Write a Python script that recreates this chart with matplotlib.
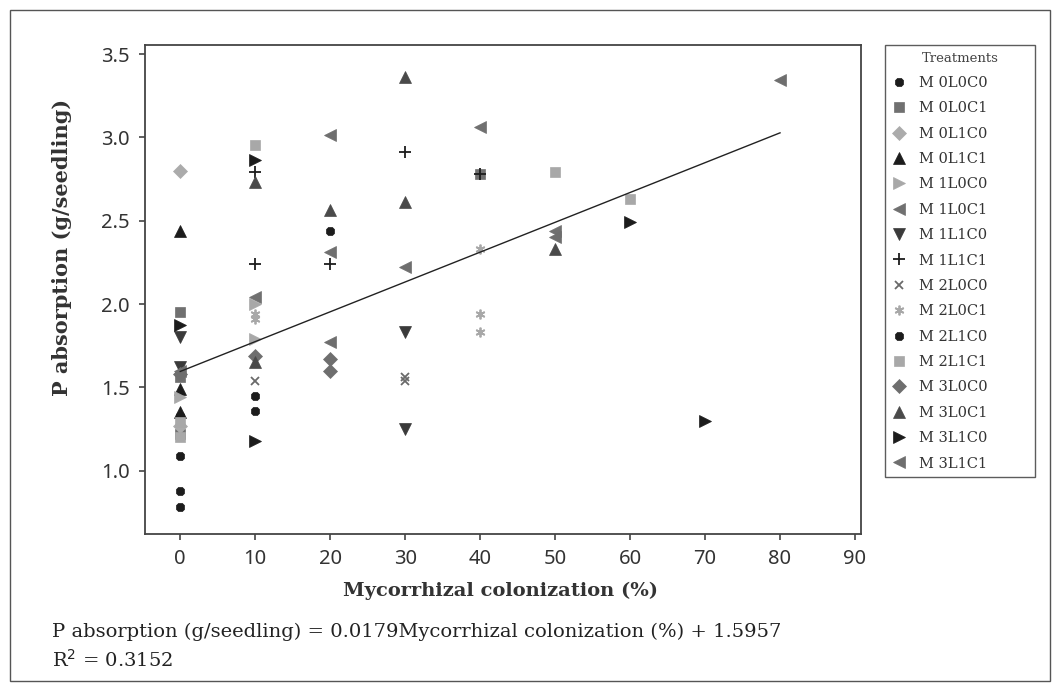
import numpy as np
import matplotlib.pyplot as plt
from matplotlib.patches import Rectangle

# treatment data (colonization %, P absorption g/seedling)
treatments = ["M0L0C0", "M0L0C1", "M0L1C0", "M0L1C1", "M1L0C0", "M1L0C1",
              "M1L1C0", "M1L1C1", "M2L0C0", "M2L0C1", "M2L1C0", "M2L1C1",
              "M3L0C0", "M3L0C1", "M3L1C0", "M3L1C1"]

col_x = {
    "M0L0C0": [0, 0, 0, 10, 10],
    "M0L0C1": [0, 0, 0, 40],
    "M0L1C0": [0, 0],
    "M0L1C1": [0, 0, 0],
    "M1L0C0": [0, 10, 10],
    "M1L0C1": [10, 20, 50, 40],
    "M1L1C0": [0, 0, 30, 30],
    "M1L1C1": [10, 10, 20, 30, 40],
    "M2L0C0": [10, 30, 30],
    "M2L0C1": [10, 10, 40, 40, 40],
    "M2L1C0": [0, 20],
    "M2L1C1": [10, 50, 60, 0, 0],
    "M3L0C0": [10, 20, 20, 0],
    "M3L0C1": [10, 20, 30, 30, 50, 10],
    "M3L1C0": [0, 10, 10, 60, 70],
    "M3L1C1": [20, 20, 30, 50, 80, 0],
}
p_abs = {
    "M0L0C0": [1.09, 0.88, 0.78, 1.45, 1.36],
    "M0L0C1": [1.95, 1.56, 1.22, 2.78],
    "M0L1C0": [2.80, 1.27],
    "M0L1C1": [2.44, 1.49, 1.35],
    "M1L0C0": [1.44, 1.79, 2.00],
    "M1L0C1": [2.04, 2.31, 2.44, 3.065],
    "M1L1C0": [1.80, 1.62, 1.835, 1.25],
    "M1L1C1": [2.79, 2.24, 2.24, 2.915, 2.78],
    "M2L0C0": [1.54, 1.56, 1.54],
    "M2L0C1": [1.94, 1.91, 2.33, 1.94, 1.83],
    "M2L1C0": [1.33, 2.44],
    "M2L1C1": [2.955, 2.79, 2.63, 1.29, 1.20],
    "M3L0C0": [1.69, 1.67, 1.60, 1.58],
    "M3L0C1": [2.73, 2.565, 3.36, 2.615, 2.33, 1.65],
    "M3L1C0": [1.875, 2.865, 1.18, 2.495, 1.30],
    "M3L1C1": [3.015, 1.775, 2.225, 2.40, 3.345, 1.60],
}

slope, intercept, r2 = 0.0179, 1.5957, 0.3152

styles = {
    "M0L0C0": ("8", "#1c1c1c", 7),
    "M0L0C1": ("s", "#707070", 7),
    "M0L1C0": ("D", "#ababab", 7),
    "M0L1C1": ("^", "#1c1c1c", 8),
    "M1L0C0": (">", "#a8a8a8", 8),
    "M1L0C1": ("<", "#707070", 8),
    "M1L1C0": ("v", "#3a3a3a", 8),
    "M1L1C1": ("+", "#1c1c1c", 8),
    "M2L0C0": ("x", "#6a6a6a", 6),
    "M2L0C1": ((6, 2, 0), "#a8a8a8", 7),
    "M2L1C0": ("8", "#1c1c1c", 7),
    "M2L1C1": ("s", "#a8a8a8", 7),
    "M3L0C0": ("D", "#6e6e6e", 7),
    "M3L0C1": ("^", "#4a4a4a", 8),
    "M3L1C0": (">", "#1c1c1c", 8),
    "M3L1C1": ("<", "#6e6e6e", 8),
}

fig = plt.figure(figsize=(10.61, 6.91), dpi=100)
ax = fig.add_axes([0.1367, 0.2272, 0.6748, 0.7077])

handles = []
for t in treatments:
    m, c, s = styles[t]
    thin = m in ("+", "x") or isinstance(m, tuple)
    h = ax.plot(col_x[t], p_abs[t], linestyle="none", marker=m, color=c,
                markersize=s, markeredgewidth=1.3 if thin else 0.5,
                label=" ".join([t[:1], t[1:]]))[0]
    handles.append(h)

xs = np.array([0, 80])
ax.plot(xs, slope * xs + intercept, color="#222222", lw=1.0)

ax.set_xlim(-4.7, 90.8)
ax.set_ylim(0.62, 3.555)
ax.set_xticks(np.arange(0, 100, 10))
ax.set_yticks([1.0, 1.5, 2.0, 2.5, 3.0, 3.5])
ax.set_yticklabels(["1.0", "1.5", "2.0", "2.5", "3.0", "3.5"])
ax.tick_params(direction="out", length=4, width=1.2, color="#444444",
               labelsize=14.5, labelcolor="#333333", pad=7)
for lbl in ax.get_xticklabels() + ax.get_yticklabels():
    lbl.set_fontfamily("Noto Sans")
for sp in ax.spines.values():
    sp.set_color("#444444")
    sp.set_linewidth(1.3)

ax.set_xlabel("Mycorrhizal colonization (%)", family="DejaVu Serif",
              fontweight="bold", fontsize=14, color="#333333")
ax.set_ylabel("P absorption (g/seedling)", family="DejaVu Serif",
              fontweight="bold", fontsize=15, color="#333333")
ax.xaxis.set_label_coords(0.497, -0.097)
ax.yaxis.set_label_coords(-0.102, 0.585)

leg = fig.legend(handles=handles, loc="upper left", mode="expand",
                 bbox_to_anchor=(885 / 1061, 1 - 45 / 691, 150 / 1061, 0),
                 title="Treatments", frameon=True, fancybox=False,
                 edgecolor="#333333", borderpad=0.45, labelspacing=0.78,
                 handletextpad=0.9, handlelength=1.0, borderaxespad=0,
                 prop={"family": "DejaVu Serif", "size": 10.5})
leg.get_frame().set_linewidth(1.0)
leg.get_title().set_fontfamily("DejaVu Serif")
leg.get_title().set_fontsize(9.5)
leg.get_title().set_color("#444444")
for txt in leg.get_texts():
    txt.set_color("#333333")

fig.text(52 / 1061, 1 - 632 / 691,
         "P absorption (g/seedling) = 0.0179Mycorrhizal colonization (%) + 1.5957",
         family="DejaVu Serif", fontsize=14, color="#222222", va="center")
fig.text(52 / 1061, 1 - 660 / 691, "R$^2$ = 0.3152",
         family="DejaVu Serif", fontsize=14, color="#222222", va="center")

fig.patches.append(Rectangle((10 / 1061, 10 / 691), 1040 / 1061, 671 / 691,
                             transform=fig.transFigure, fill=False,
                             edgecolor="#555555", lw=1.0))

fig.savefig("out.png", dpi=100)
